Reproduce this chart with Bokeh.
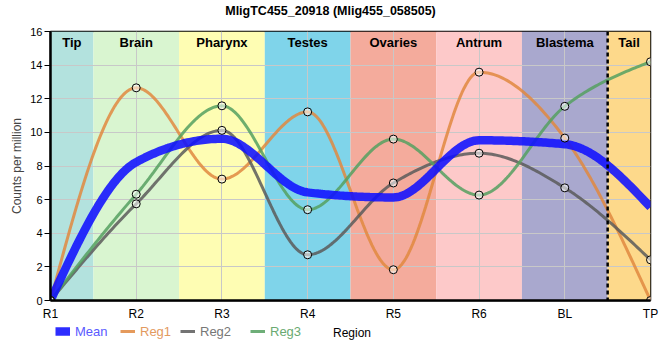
import numpy as np
from bokeh.plotting import figure
from bokeh.layouts import column
from bokeh.models import Span, Legend, LegendItem, FixedTicker
from bokeh.core.properties import value
from bokeh.embed import file_html
from bokeh.resources import INLINE

# ---- data ----
regions = ["R1", "R2", "R3", "R4", "R5", "R6", "BL", "TP"]
mean = [0.0, 8.23, 9.62, 6.43, 6.13, 9.53, 9.30, 5.55]
reg1 = [0.0, 12.65, 7.22, 11.22, 1.83, 13.58, 9.66, 0.0]
reg2 = [0.0, 5.75, 10.12, 2.72, 6.99, 8.76, 6.70, 2.42]
reg3 = [0.0, 6.32, 11.58, 5.40, 9.60, 6.27, 11.55, 14.20]
band_names = ["Tip", "Brain", "Pharynx", "Testes", "Ovaries", "Antrum", "Blastema", "Tail"]
band_start = [0.0, 0.5, 1.5, 2.5, 3.5, 4.5, 5.5, 6.5]
band_end = [0.5, 1.5, 2.5, 3.5, 4.5, 5.5, 6.5, 7.0]
band_colors = ["#b3e2de", "#d9f5d0", "#fefdb3", "#7fd4ea", "#f4ab9c", "#fdc9c9", "#a9a8ce", "#fdd98b"]
y_ticks = [0, 2, 4, 6, 8, 10, 12, 14, 16]
title_text = "MligTC455_20918 (Mlig455_058505)"
x_label = "Region"
y_label = "Counts per million"

FONT = "Liberation Sans"


def monotone(xs, ys, n=40):
    xs = np.asarray(xs, float)
    ys = np.asarray(ys, float)
    N = len(xs)
    h = np.diff(xs)
    s = np.diff(ys) / h
    t = np.zeros(N)
    sg = lambda v: -1.0 if v < 0 else 1.0
    for i in range(1, N - 1):
        h0, h1 = h[i - 1], h[i]
        s0, s1 = s[i - 1], s[i]
        p_ = (s0 * h1 + s1 * h0) / (h0 + h1)
        t[i] = (sg(s0) + sg(s1)) * min(abs(s0), abs(s1), 0.5 * abs(p_))
    t[0] = (3 * s[0] - t[1]) / 2
    t[-1] = (3 * s[-1] - t[-2]) / 2
    ox, oy = [], []
    for i in range(N - 1):
        u = np.linspace(0, 1, n, endpoint=(i == N - 2))
        hh = h[i]
        h00 = 2 * u**3 - 3 * u**2 + 1
        h10 = u**3 - 2 * u**2 + u
        h01 = -2 * u**3 + 3 * u**2
        h11 = u**3 - u**2
        ox.extend(xs[i] + u * hh)
        oy.extend(h00 * ys[i] + h10 * hh * t[i] + h01 * ys[i + 1] + h11 * hh * t[i + 1])
    return ox, oy


def strip(h, xr, yr):
    f = figure(frame_width=600, frame_height=h, x_range=xr, y_range=yr,
               output_backend="svg", toolbar_location=None,
               x_axis_location=None, y_axis_location=None,
               min_border_left=50, min_border_right=10,
               min_border_top=0, min_border_bottom=0)
    f.grid.visible = False
    f.outline_line_color = None
    return f


xs = list(range(len(regions)))

# ---- title strip ----
p0 = strip(20, (0, 600), (0, 20))
p0.text(x=[280], y=[10], text=[title_text], text_font=value(FONT), text_font_size="12.5px",
        text_font_style="bold", text_align="center", text_baseline="middle", text_color="black")

# ---- main chart ----
p = figure(frame_width=600, frame_height=269, x_range=(0, 7), y_range=(0, 16),
           output_backend="svg", toolbar_location=None,
           min_border_left=50, min_border_right=10, min_border_top=11, min_border_bottom=22)

p.quad(left=band_start, right=band_end, bottom=0, top=16, fill_color=band_colors,
       line_color=None, level="image")
p.text(x=[(a + b) / 2 for a, b in zip(band_start, band_end)], y=[16] * 8, text=band_names,
       text_font=value(FONT), text_font_size="13px", text_font_style="bold",
       text_align="center", text_baseline="top", y_offset=3, text_color="black")

p.xgrid.ticker = FixedTicker(ticks=xs)
p.ygrid.ticker = FixedTicker(ticks=y_ticks)
p.grid.grid_line_color = "#c8c8c8"
p.grid.grid_line_width = 1

p.xaxis.ticker = FixedTicker(ticks=xs)
p.xaxis.major_label_overrides = {i: r for i, r in enumerate(regions)}
p.yaxis.ticker = FixedTicker(ticks=y_ticks)
p.yaxis.axis_label = y_label
for ax in (p.xaxis, p.yaxis):
    ax.axis_line_width = 2.5
    ax.axis_line_color = "black"
    ax.minor_tick_line_color = None
    ax.major_label_text_font = FONT
    ax.axis_label_text_font = FONT
    ax.axis_label_text_font_style = "normal"
    ax.axis_label_text_font_size = "12px"
    ax.major_tick_in = 0
    ax.major_label_text_color = "black"
p.xaxis.major_tick_out = 0
p.xaxis.major_label_text_font_size = "12px"
p.xaxis.major_label_standoff = 6
p.yaxis.major_tick_out = 6
p.yaxis.major_label_text_font_size = "11px"
p.yaxis.major_label_standoff = 2
p.yaxis.axis_label_standoff = 3
p.outline_line_color = "black"
p.outline_line_width = 1.5

series = [("Reg1", reg1, "#e0883f"), ("Reg2", reg2, "#5a5a5a"), ("Reg3", reg3, "#55a060")]
for name, vals, col in series:
    cx, cy = monotone(xs, vals)
    p.line(cx, cy, line_color=col, line_width=3, line_alpha=0.85)

mx, my = monotone(xs, mean)
p.line(mx, my, line_color="#1010ff", line_width=8.5, line_alpha=0.88)

for name, vals, col in series:
    p.scatter(xs, vals, size=8, fill_color="white", fill_alpha=0.55,
              line_color="black", line_width=1)

p.add_layout(Span(location=6.5, dimension="height", line_color="black",
                  line_width=2.5, line_dash="4 3"))

# ---- legend strip ----
p2 = strip(30, (0, 600), (0, 30))
leg_specs = [("Mean", "#1010ff", 8.5, 0.88, "#5a5aff", 5),
             ("Reg1", "#e0883f", 3, 0.85, "#e39a5f", 70),
             ("Reg2", "#5a5a5a", 3, 0.85, "#777777", 130),
             ("Reg3", "#55a060", 3, 0.85, "#6aaa72", 200)]
for name, lcol, lw, la, tcol, xo in leg_specs:
    r = p2.line([-100, -90], [-100, -100], line_color=lcol, line_width=lw, line_alpha=la)
    lg = Legend(items=[LegendItem(label=name, renderers=[r])],
                location=(xo, 14), orientation="horizontal",
                background_fill_alpha=0, border_line_color=None,
                padding=0, margin=0, glyph_width=15, glyph_height=16,
                label_height=16, label_standoff=5,
                label_text_font=FONT, label_text_font_size="13px",
                label_text_color=tcol)
    p2.add_layout(lg, "center")

p2.text(x=[301.5], y=[20.5], text=[x_label], text_font=value(FONT), text_font_size="12px",
        text_align="center", text_baseline="middle", text_color="black")

layout = column(p0, p, p2, spacing=0)
open("out.html", "w").write(file_html(layout, INLINE))
